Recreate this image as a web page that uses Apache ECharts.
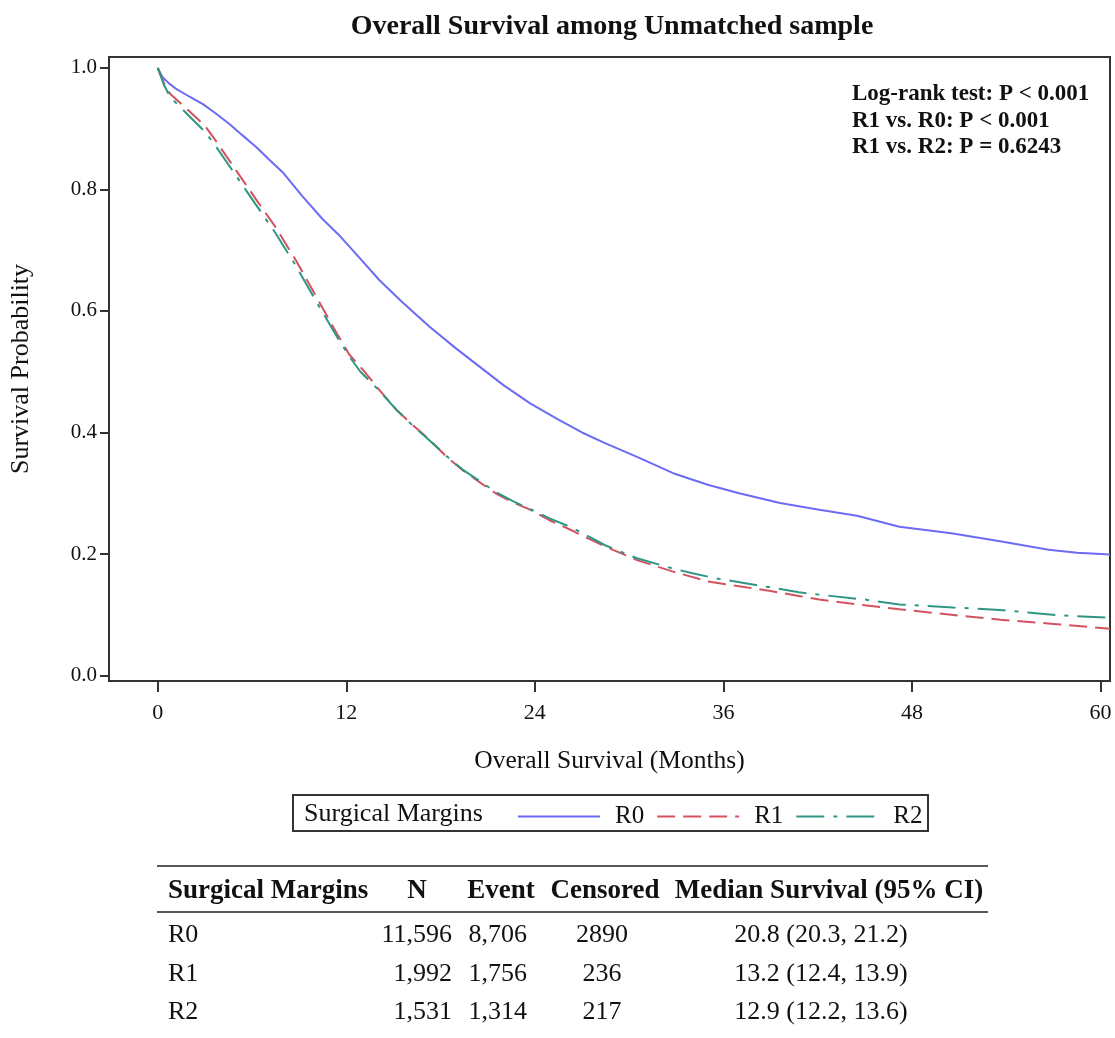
<!DOCTYPE html>
<html>
<head>
<meta charset="utf-8">
<script src="https://cdn.jsdelivr.net/npm/echarts@6/dist/echarts.min.js"></script>
<style>
html,body{margin:0;padding:0;background:#fff;}
#chart{width:1115px;height:1038px;}
</style>
</head>
<body>
<div id="chart"></div>
<script>
// ---- Data ----
const xTicks = [0, 12, 24, 36, 48, 60];
const yTicks = [0, 0.2, 0.4, 0.6, 0.8, 1.0];

const monthsR0 = [0,0.3,0.7,1.2,2.0,2.9,3.7,4.6,5.4,6.3,7.1,8.0,9.2,10.5,11.5,12.2,13.0,14.1,15.5,17.3,19.0,20.5,22.0,23.7,25.5,27.0,28.5,30.5,32.8,35.0,37.0,39.6,42.1,44.5,47.2,50.5,53.6,56.7,58.5,60.6];
const survR0   = [1.000,0.985,0.975,0.965,0.953,0.940,0.925,0.907,0.889,0.869,0.849,0.827,0.789,0.751,0.726,0.706,0.683,0.651,0.616,0.574,0.538,0.508,0.478,0.448,0.421,0.400,0.382,0.360,0.333,0.314,0.300,0.284,0.273,0.263,0.245,0.234,0.221,0.207,0.202,0.199];

const monthsR1 = [0,0.4,0.8,2.0,3.0,3.7,5.0,6.3,7.5,8.8,10.1,11.4,12.2,13.1,14.1,15.2,16.2,17.3,18.3,19.4,20.5,21.5,22.6,23.7,24.9,26.5,28.5,30.5,32.8,35.0,37.0,39.0,40.8,42.1,44.5,47.2,50.5,53.6,57.0,60.6];
const survR1   = [1.000,0.975,0.957,0.929,0.905,0.880,0.831,0.782,0.738,0.683,0.623,0.563,0.528,0.502,0.470,0.437,0.413,0.388,0.362,0.338,0.318,0.300,0.285,0.273,0.256,0.237,0.212,0.190,0.171,0.155,0.147,0.139,0.131,0.125,0.117,0.109,0.100,0.092,0.085,0.077];

const monthsR2 = [0,0.4,0.8,2.0,3.0,3.7,5.0,6.3,7.5,8.8,10.1,11.4,12.2,12.9,14.1,15.2,16.2,17.3,18.3,19.4,20.5,21.5,22.6,23.7,24.9,26.4,28.5,30.5,32.8,34.1,35.5,37.4,39.0,40.8,42.5,45.0,47.2,50.6,53.6,57.4,60.6];
const survR2   = [1.000,0.972,0.952,0.921,0.895,0.871,0.822,0.773,0.728,0.674,0.615,0.558,0.525,0.500,0.469,0.437,0.412,0.387,0.363,0.339,0.320,0.302,0.287,0.274,0.259,0.243,0.214,0.193,0.176,0.168,0.160,0.152,0.145,0.137,0.132,0.125,0.117,0.112,0.108,0.099,0.095];

const seriesNames = ['R0', 'R1', 'R2'];
const pValueLines = ['Log-rank test: P < 0.001', 'R1 vs. R0: P < 0.001', 'R1 vs. R2: P = 0.6243'];

const tableHeader = ['Surgical Margins', 'N', 'Event', 'Censored', 'Median Survival (95% CI)'];
const tableGroups = ['R0', 'R1', 'R2'];
const tableN = ['11,596', '1,992', '1,531'];
const tableEvent = ['8,706', '1,756', '1,314'];
const tableCensored = ['2890', '236', '217'];
const tableMedian = ['20.8 (20.3, 21.2)', '13.2 (12.4, 13.9)', '12.9 (12.2, 13.6)'];

// ---- Chart ----
const SERIF = '"Liberation Serif", "Times New Roman", serif';
const TXT = '#111';
const chart = echarts.init(document.getElementById('chart'), null, {renderer: 'canvas'});

function pairs(xs, ys) { return xs.map((x, i) => [x, ys[i]]); }

const graphics = [];
// p-value annotation
pValueLines.forEach((t, i) => {
  graphics.push({type: 'text', x: 852, y: 94 + i * 26.7,
    style: {text: t, font: 'bold 23px ' + SERIF, fill: TXT, textVerticalAlign: 'middle'}});
});
// legend box and title
graphics.push({type: 'rect', shape: {x: 293, y: 795, width: 635, height: 36},
  style: {fill: 'none', stroke: '#333', lineWidth: 2}});
graphics.push({type: 'text', x: 304, y: 814,
  style: {text: 'Surgical Margins', font: '26px ' + SERIF, fill: TXT, textVerticalAlign: 'middle'}});
// table rules
[866, 912].forEach(y => {
  graphics.push({type: 'line', shape: {x1: 157, y1: y, x2: 988, y2: y},
    style: {stroke: '#222', lineWidth: 1.5}});
});
// table header
const hdrX = [168, 417, 501, 605, 829];
const hdrAlign = ['left', 'center', 'center', 'center', 'center'];
tableHeader.forEach((h, i) => {
  graphics.push({type: 'text', x: hdrX[i], y: 891,
    style: {text: h, font: 'bold 27px ' + SERIF, fill: TXT, textAlign: hdrAlign[i], textVerticalAlign: 'middle'}});
});
// table rows
const rowY = [935, 974, 1012];
tableGroups.forEach((g, r) => {
  const cells = [
    [g, 168, 'left'],
    [tableN[r], 452, 'right'],
    [tableEvent[r], 527, 'right'],
    [tableCensored[r], 602, 'center'],
    [tableMedian[r], 821, 'center']
  ];
  cells.forEach(c => {
    graphics.push({type: 'text', x: c[1], y: rowY[r],
      style: {text: c[0], font: '26px ' + SERIF, fill: TXT, textAlign: c[2], textVerticalAlign: 'middle'}});
  });
});

const option = {
  backgroundColor: '#fff',
  animation: false,
  title: {
    text: 'Overall Survival among Unmatched sample',
    left: 607, textAlign: 'center', top: 8,
    textStyle: {fontFamily: SERIF, fontWeight: 'bold', fontSize: 28, color: TXT}
  },
  grid: {left: 109, right: 5, top: 57, bottom: 357, containLabel: false, outerBoundsMode: 'none',
    show: true, borderColor: '#333', borderWidth: 2, backgroundColor: 'transparent'},
  xAxis: {
    type: 'value', min: -3.1, max: 60.6,
    name: 'Overall Survival (Months)', nameLocation: 'middle', nameGap: 67,
    nameTextStyle: {fontFamily: SERIF, fontSize: 25.5, color: TXT},
    axisLine: {show: true, onZero: false, lineStyle: {color: '#333', width: 2}},
    axisTick: {show: true, length: 11, customValues: xTicks, lineStyle: {color: '#333', width: 2}},
    axisLabel: {customValues: xTicks, margin: 21, fontFamily: SERIF, fontSize: 22, color: TXT},
    splitLine: {show: false}
  },
  yAxis: {
    type: 'value', min: -0.009, max: 1.018,
    name: 'Survival Probability', nameLocation: 'middle', nameGap: 75, nameRotate: 90,
    nameTextStyle: {fontFamily: SERIF, fontSize: 26, color: TXT},
    axisLine: {show: true, onZero: false, lineStyle: {color: '#333', width: 2}},
    axisTick: {show: true, length: 9, customValues: yTicks, lineStyle: {color: '#333', width: 2}},
    axisLabel: {customValues: yTicks, margin: 12, fontFamily: SERIF, fontSize: 21, color: TXT,
      formatter: v => v.toFixed(1)},
    splitLine: {show: false}
  },
  legend: {
    data: seriesNames,
    left: 517, top: 804, padding: 0,
    itemWidth: 82, itemHeight: 14, itemGap: 12,
    itemStyle: {opacity: 0, borderWidth: 0},
    textStyle: {fontFamily: SERIF, fontSize: 25, color: TXT, padding: [0, 0, 0, 10]}
  },
  series: [
    {name: 'R0', type: 'line', data: pairs(monthsR0, survR0), symbol: 'none', showSymbol: false,
      lineStyle: {color: '#6b6bf5', width: 2}, itemStyle: {color: '#6b6bf5'}},
    {name: 'R1', type: 'line', data: pairs(monthsR1, survR1), symbol: 'none', showSymbol: false,
      lineStyle: {color: '#d4525f', width: 2, type: [18, 8]}, itemStyle: {color: '#d4525f'}},
    {name: 'R2', type: 'line', data: pairs(monthsR2, survR2), symbol: 'none', showSymbol: false,
      lineStyle: {color: '#2f9683', width: 2, type: [28, 9, 4, 9]}, itemStyle: {color: '#2f9683'}}
  ],
  graphic: graphics
};
chart.setOption(option);
</script>
</body>
</html>
